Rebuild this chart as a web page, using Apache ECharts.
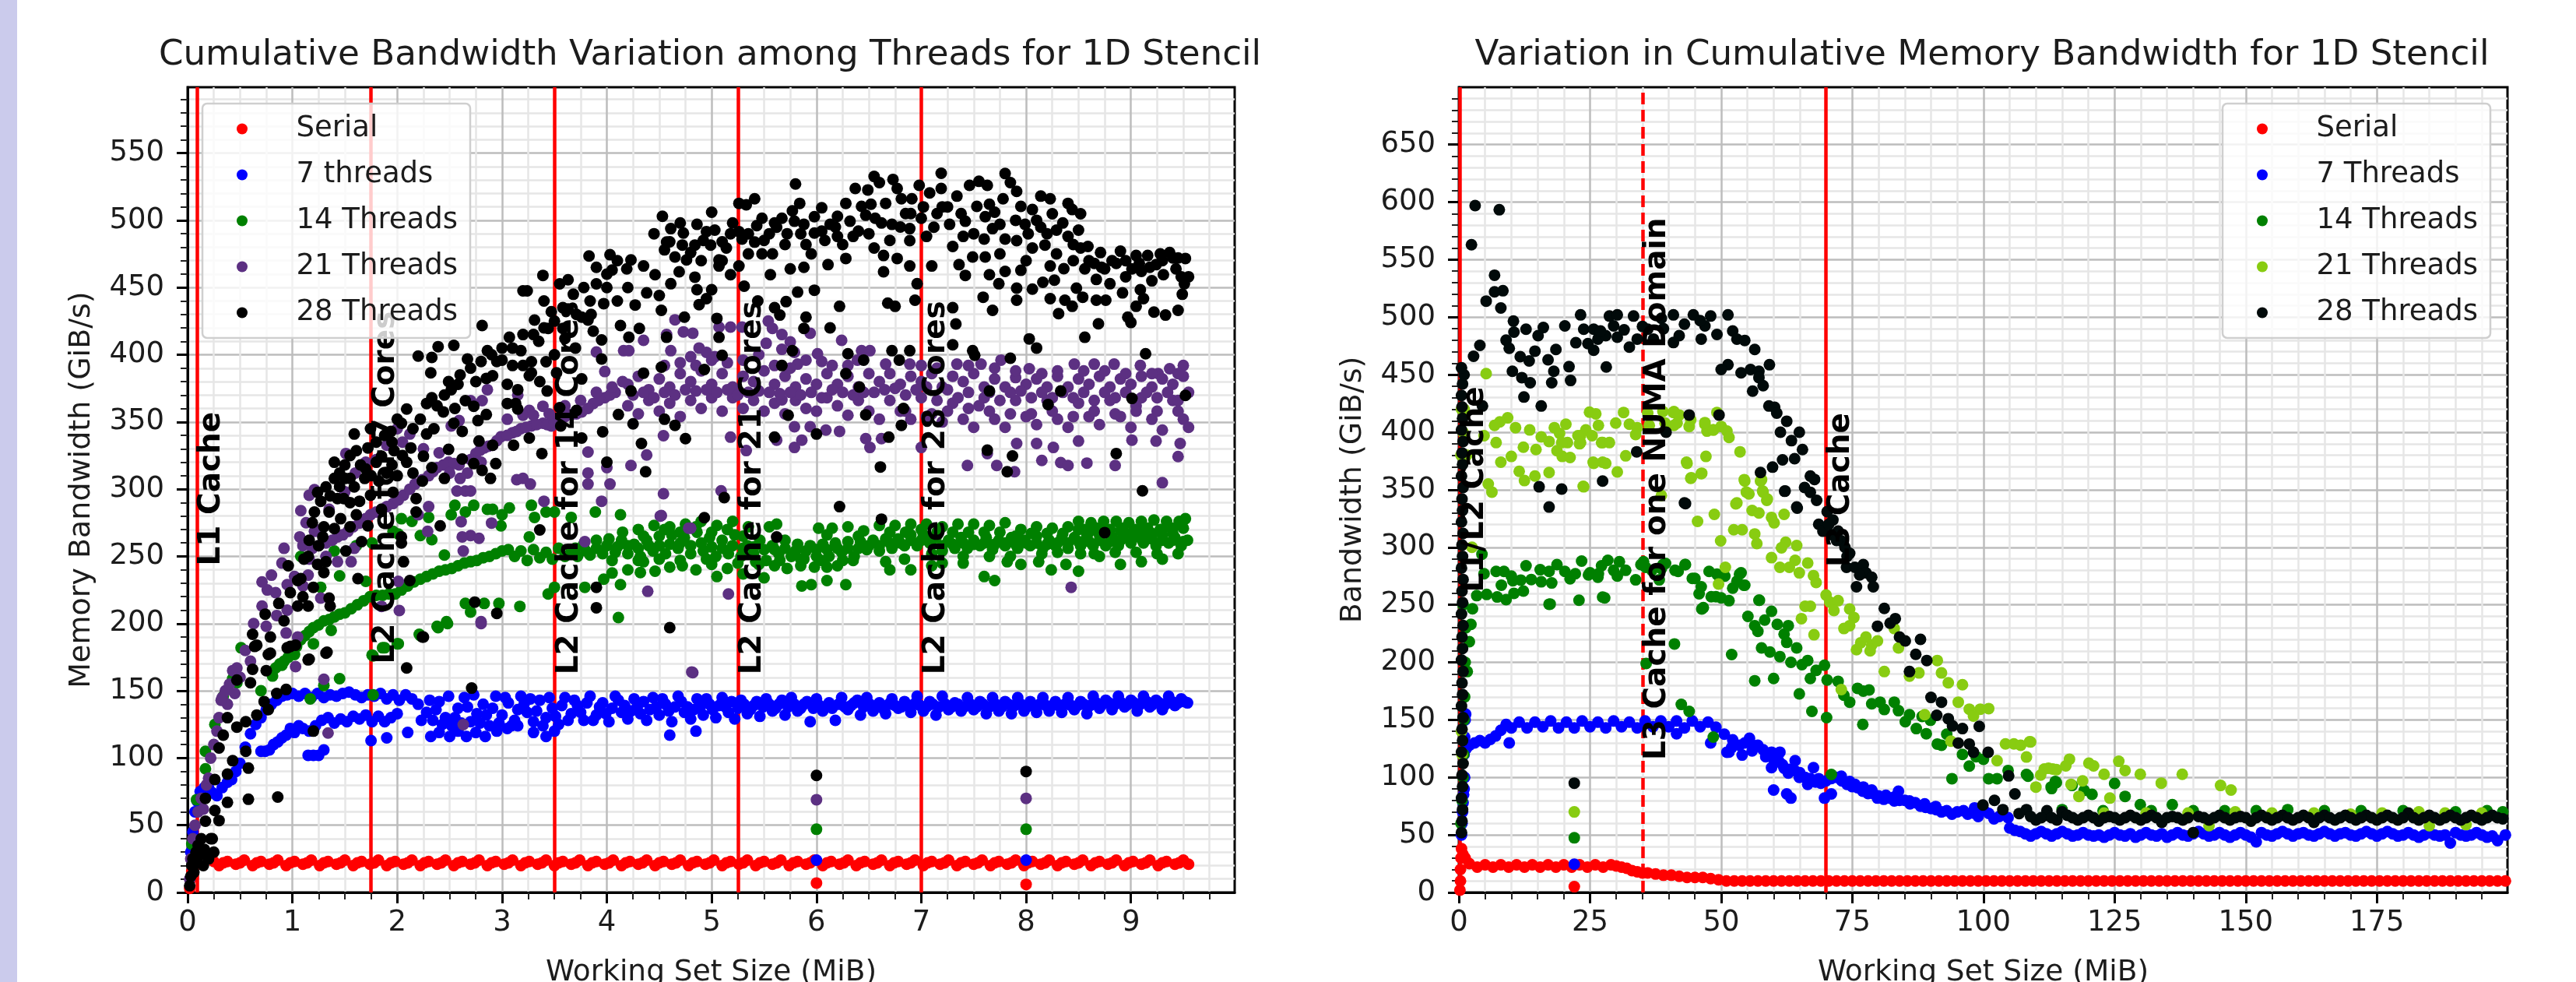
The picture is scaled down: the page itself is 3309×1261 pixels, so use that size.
<!DOCTYPE html>
<html><head><meta charset="utf-8">
<script src="https://cdn.jsdelivr.net/npm/echarts@6/dist/echarts.min.js"></script>
<style>html,body{margin:0;padding:0;background:#fff}#c{width:3309px;height:1261px}</style></head>
<body><div id="c"></div>
<script>
const leftTitle='Cumulative Bandwidth Variation among Threads for 1D Stencil';
const rightTitle='Variation in Cumulative Memory Bandwidth for 1D Stencil';
const leftXTicks=[0,1,2,3,4,5,6,7,8,9];
const leftYTicks=[0,50,100,150,200,250,300,350,400,450,500,550];
const rightXTicks=[0,25,50,75,100,125,150,175];
const rightYTicks=[0,50,100,150,200,250,300,350,400,450,500,550,600,650];
const leftLines=[0.086,1.75,3.5,5.25,7];
const leftLineLabels=[[0.086,243,'L1 Cache'],[1.75,170,'L2 Cache for 7 Cores'],[3.5,162,'L2 Cache for 14 Cores'],[5.25,162,'L2 Cache for 21 Cores'],[7,162,'L2 Cache for 28 Cores']];
const rightLinesSolid=[0.15,70];
const rightLinesDashed=[35];
const rightLineLabels=[[0.25,261,'L1/L2 Cache'],[35,115,'L3 Cache for one NUMA Domain'],[70,283,'L3 Cache']];
const leftNames=['Serial','7 threads','14 Threads','21 Threads','28 Threads'];
const rightNames=['Serial','7 Threads','14 Threads','21 Threads','28 Threads'];
const leftColors=['#ff0000','#0000ff','#008000','#5c3082','#000000'];
const rightColors=['#ff0000','#0000ff','#008000','#88cc11','#010a0a'];

const leftSerial=[.02,3,.03,10,.04,16,.05,20,.06,24,.07,28,.09,31,.12,31,.15,30,.18,28,.2,26,.25,23,.3,20,.38,23,.46,21,.54,24,.62,20,.7,23,.78,21,.86,24,.94,20,1.02,23,1.1,21,1.18,24,1.26,20,1.34,23,1.42,21,1.5,24,1.58,20,1.66,23,1.74,21,1.82,24,1.9,20,1.98,23,2.06,21,2.14,24,2.22,20,2.3,23,2.38,21,2.46,24,2.54,20,2.62,23,2.7,21,2.78,24,2.86,20,2.94,23,3.02,21,3.1,24,3.18,20,3.26,23,3.34,21,3.42,24,3.5,20,3.58,23,3.66,21,3.74,24,3.82,20,3.9,23,3.98,21,4.06,24,4.14,20,4.22,23,4.3,21,4.38,24,4.46,20,4.54,23,4.62,21,4.7,24,4.78,20,4.86,23,4.94,21,5.02,24,5.1,20,5.18,23,5.26,21,5.34,24,5.42,20,5.5,23,5.58,21,5.66,24,5.74,20,5.82,23,5.9,21,5.98,24,6.06,20,6.14,23,6.22,21,6.3,24,6.38,20,6.46,23,6.54,21,6.62,24,6.7,20,6.78,23,6.86,21,6.94,24,7.02,20,7.1,23,7.18,21,7.26,24,7.34,20,7.42,23,7.5,21,7.58,24,7.66,20,7.74,23,7.82,21,7.9,24,7.98,20,8.06,23,8.14,21,8.22,24,8.3,20,8.38,23,8.46,21,8.54,24,8.62,20,8.7,23,8.78,21,8.86,24,8.94,20,9.02,23,9.1,21,9.18,24,9.26,20,9.34,23,9.42,21,9.5,24,9.55,21,6,7,8,6,
.34,22,.5,22,.66,22,.82,22,.98,22,1.14,22,1.3,22,1.46,22,1.62,22,1.78,22,1.94,22,2.1,22,2.26,22,2.42,22,2.58,22,2.74,22,2.9,22,3.06,22,3.22,22,3.38,22,3.54,22,3.7,22,3.86,22,4.02,22,4.18,22,4.34,22,4.5,22,4.66,22,4.82,22,4.98,22,5.14,22,5.3,22,5.46,22,5.62,22,5.78,22,5.94,22,6.1,22,6.26,22,6.42,22,6.58,22,6.74,22,6.9,22,7.06,22,7.22,22,7.38,22,7.54,22,7.7,22,7.86,22,8.02,22,8.18,22,8.34,22,8.5,22,8.66,22,8.82,22,8.98,22,9.14,22,9.3,22,9.46,22];

const left7=[.03,30,.05,45,.07,60,.09,68,.12,75,.16,78,.2,78,.24,74,.28,72,.33,78,.38,82,.42,84,.46,90,.5,96,.55,108,.6,118,.65,125,.7,130,.75,136,.8,140,.85,143,.9,146,.95,147,1,148,1.06,146,1.12,148,1.18,145,1.24,148,1.3,145,1.36,147,1.42,146,1.48,148,1.54,149,1.6,147,1.66,145,1.72,147,1.78,146,1.84,148,1.9,144,1.96,147,2.02,143,2.08,147,2.14,144,.7,105,.74,105,.78,106,.82,110,.86,112,.9,115,.94,117,.98,122,1.02,119,1.06,124,1.1,122,1.16,120,1.22,124,1.28,128,1.34,130,1.4,126,1.46,129,1.52,127,1.58,131,1.64,129,1.7,132,1.76,127,1.82,131,1.88,127,1.94,130,2,133,1.15,102,1.2,102,1.25,102,1.3,106,1.75,113,1.9,115,2.1,119,2.32,116,2.4,119,2.5,116,2.58,120,2.66,116,2.75,119,2.84,116,2.95,120,3.05,122,3.15,124,3.3,119,3.42,116,3.5,120,4.6,117,4.85,120,6,24,8,24,
2.2,140,2.28,134,2.34,128,2.4,142,2.46,130,2.52,124,2.58,137,2.64,145,2.7,127,2.76,133,2.82,140,2.88,124,2.94,146,3,132,3.06,141,3.12,128,3.18,146,3.24,134,3.3,127,3.36,143,3.42,130,3.48,137,3.54,125,3.6,145,3.66,133,3.72,139,3.78,128,3.84,146,3.9,132,3.96,141,4.02,127,4.08,146,4.14,134,4.2,129,4.26,144,4.32,133,4.38,128,4.44,145,4.5,132,4.56,140,4.62,127,4.68,146,4.74,134,4.8,129,4.86,144,4.92,132,4.98,140,5.04,130,5.1,145,5.16,134,5.22,129,5.28,143,5.34,133,5.4,139,5.46,131,5.52,144,5.58,135,5.64,140,5.7,132,5.76,145,5.82,135,5.88,140,5.94,127,6,144,6.06,135,6.12,141,6.18,128,6.24,145,6.3,136,6.36,141,6.42,132,6.48,145,6.54,135,6.6,141,6.66,133,6.72,144,6.78,137,6.84,142,6.9,134,6.96,146,7.02,135,7.08,142,7.14,132,7.2,146,7.26,136,7.32,141,7.38,135,7.44,145,7.5,136,7.56,142,7.62,133,7.68,145,7.74,135,7.8,142,7.86,133,7.92,145,7.98,135,8.04,142,8.1,134,8.16,145,8.22,135,8.28,142,8.34,134,8.4,145,8.46,136,8.52,142,8.58,133,8.64,146,8.7,137,8.76,143,8.82,136,8.88,146,8.94,138,9,143,9.06,135,9.12,146,9.18,138,9.24,143,9.3,136,9.36,146,9.42,139,9.48,144,9.54,141,
2.23,128,2.31,143,2.37,136,2.43,125,2.49,146,2.55,130,2.61,126,2.67,138,2.73,147,2.79,126,2.85,132,2.91,137,2.97,126,3.03,145,3.09,124,3.15,136,3.21,140,3.27,144,3.33,135,3.39,124,3.45,145,3.51,131,3.57,139,3.63,128,3.69,143,3.75,134,3.81,141,3.87,128,3.93,138,3.99,133,4.05,137,4.11,143,4.17,139,4.23,135,4.29,138,4.35,142,4.41,136,4.47,138,4.53,144,4.59,135,4.65,138,4.71,142,4.77,138,4.83,136,4.89,138,4.95,144,5.01,136,5.07,139,5.13,138,5.19,142,5.25,137,5.31,140,5.37,136,5.43,142,5.49,138,5.55,140,5.61,137,5.67,143,5.73,138,5.79,140,5.85,137,5.91,142,5.97,137,6.03,139,6.09,138,6.15,137,6.21,140,6.27,138,6.33,139,6.39,143,6.45,138,6.51,140,6.57,138,6.63,137,6.69,140,6.75,139,6.81,138,6.87,139,6.93,140,6.99,139,7.05,138,7.11,140,7.17,138,7.23,140,7.29,138,7.35,140,7.41,138,7.47,140,7.53,138,7.59,140,7.65,138,7.71,140,7.77,138,7.83,140,7.89,139,7.95,140,8.01,138,8.07,139,8.13,140,8.19,139,8.25,139,8.31,139,8.37,140,8.43,139,8.49,139,8.55,140,8.61,139,8.67,141,8.73,140,8.79,141,8.85,140,8.91,141,8.97,140,9.03,141,9.09,140,9.15,142,9.21,140,9.27,141,9.33,140,9.39,142,9.45,141,9.51,142];

const left14=[.04,36,.085,69,.17,92,.17,105,.26,125,.34,146,.43,159,.47,156,.51,182,.7,150,.81,161,.9,169,1.02,177,1.17,144,1.3,154,1.45,159,1.77,147,1.2,185,1.37,195,1.77,176,1.86,182,2,185,2.22,191,2.39,197,2.48,200,6,47,8,47,
.84,167,.88,170,.92,172,.96,175,1,178,1.04,183,1.08,188,1.12,191,1.16,194,1.2,197,1.25,199,1.3,202,1.35,203,1.4,205,1.45,207,1.5,208,1.56,211,1.62,214,1.68,217,1.74,220,1.8,221,1.86,221,1.92,222,1.98,222,2.04,225,2.1,228,2.16,231,2.22,233,2.28,235,2.34,237,2.4,239,2.46,240,2.52,241,2.58,243,2.64,245,2.7,246,2.76,247,2.82,249,2.88,250,2.94,252,3,254,3.06,255,3.12,250,3.18,254,3.24,247,3.3,255,3.36,249,3.42,253,3.48,248,3.54,256,3.6,250,3.66,254,3.72,250,3.78,259,3.84,251,3.9,262,3.96,252,4.02,263,4.08,253,4.14,262,4.2,252,4.26,259,4.32,250,4.38,262,4.44,254,4.5,265,4.56,252,4.62,266,4.68,256,4.74,264,4.8,252,4.86,268,4.92,254,4.98,264,5.04,250,5.1,262,5.16,252,5.22,266,5.28,250,5.34,258,5.4,252,5.46,262,5.52,247,5.58,258,5.64,252,5.7,262,5.76,250,5.82,259,5.88,248,5.94,258,6,250,6.06,259,6.12,250,6.18,260,6.24,253,6.3,261,6.36,250,6.42,261,6.48,255,6.54,262,6.6,254,6.66,263,6.72,256,6.78,263,6.84,258,6.9,266,6.96,258,7.02,266,7.08,260,7.14,264,7.2,254,7.26,262,7.32,256,7.38,264,7.44,256,7.5,262,7.56,258,7.62,264,7.68,255,7.74,262,7.8,258,7.86,264,7.92,256,7.98,262,8.04,258,8.1,265,8.16,256,8.22,262,8.28,258,8.34,264,8.4,256,8.46,264,8.52,258,8.58,265,8.64,258,8.7,266,8.76,258,8.82,264,8.88,258,8.94,266,9,260,9.06,265,9.12,260,9.18,266,9.24,258,9.3,266,9.36,260,9.42,264,9.48,258,9.54,262,
2.55,288,2.73,288,2.86,285,2.91,285,3.07,286,3.28,288,3.5,283,3.66,279,3.89,283,4.13,281,2.515,281,2.65,283,2.3,279,2.04,278,2.14,276,2.99,272.7,3,281,3.31,279,3.42,283,2.01,266.6,2.22,265.5,2.33,262.4,1.96,268.6,1.76,260,1.61,258,1.4,254,2.45,251,3.26,264.5,1.45,235.5,1.08,250,1.27,227,1.7,231.4,3.44,222,3.5,227,3.79,227,3.97,233,4.05,237.6,4.13,229,2.65,215,2.7,208.6,2.83,215,2.97,215,3.17,212.8,4.11,204.5,2.47,201.4,2.38,198,2.21,192,2.01,185,1.88,182,1.76,176.6,
4.3,270,4.45,273,4.6,272,4.75,274,4.9,276,5.05,273,5.2,276,5.35,272,5.55,272,5.62,274,6.02,271,6.15,271,6.3,272,6.45,269,6.6,273,6.75,273,6.9,274,7.05,274,7.2,272,7.35,274,7.5,274,7.65,273,7.8,275,7.95,270,8.1,272,8.25,271,8.4,272,8.5,276,8.56,270,8.62,275,8.68,271,8.74,276,8.8,270,8.86,276,8.92,271,8.98,275,9.04,270,9.1,276,9.16,271,9.22,277,9.28,270,9.34,276,9.4,271,9.46,276,9.52,278,
4.2,240,4.32,238,4.46,239,4.6,242,4.72,243,4.85,240,4.95,248,5.05,235,5.15,241,5.3,237,5.42,246,5.5,234,5.6,243,5.72,241,5.85,243,5.98,242,6.1,242,6.2,243,6.35,247,6.66,246,6.7,240,6.84,248,6.9,240,7.1,243,7.2,245,7.4,245,7.6,235,7.7,232,7.82,246,7.95,244,8.12,246,8.24,240,8.38,244,8.5,239,8.7,250,8.9,244,9.1,246,9.3,248,5.86,228,5.95,229,6.1,232,6.28,229,4.3,247,4.5,248,
3.7,256,3.8,254,3.9,256,4,258,4.1,257,4.2,258,4.3,256,4.4,258,4.5,258,4.6,259,4.7,260,4.8,258,4.9,260,5,257,5.1,256,5.2,258,5.3,256,5.4,257,5.5,255,5.6,255,5.7,256,5.8,254,5.9,254,6,255,6.1,255,6.2,256,6.3,256,6.4,256,6.5,258,6.6,258,6.7,260,6.8,260,6.9,262,7,262,7.1,262,7.2,258,7.3,259,7.4,260,7.5,259,7.6,260,7.7,259,7.8,260,7.9,259,8,260,8.1,260,8.2,259,8.3,260,8.4,260,8.5,261,8.6,261,8.7,262,8.8,261,8.9,262,9,262,9.1,263,9.2,263,9.3,262,9.4,262,9.5,261,
4.15,268,4.35,265,4.55,270,4.7,268,4.85,272,5,268,5.15,270,5.3,265,6.1,266,6.4,265,6.7,268,6.85,268,7,270,7.15,268,7.3,268,7.45,268,7.6,268,7.75,268,7.9,265,8.05,267,8.2,267,8.35,267,8.5,270,8.6,268,8.7,270,8.8,266,8.9,269,9,267,9.1,270,9.2,267,9.3,270,9.4,267,9.5,271,8.52,252,8.65,252,8.85,253,9.05,253,9.25,252,9.45,252,8.15,252,8.3,253,7.85,250,7.65,250,7.4,250,7.1,252,4.05,247,4.35,246,4.7,247,5,244,5.25,245,5.45,244,5.65,247,5.85,248,6.05,247,6.25,247];

const left21=[.02,10,.03,25,.05,40,.07,50,.1,60,.13,70,.15,62,.18,80,.2,85,.22,100,.25,110,.28,120,.3,130,.33,145,.36,150,.38,140,.4,155,.43,165,.47,167,.55,180,.63,200,.71,213,.76,225,.84,223,.95,229,.71,231,.8,236,.9,245,.92,256,1.07,264.5,1.08,284,1.21,299.6,1.16,295.5,1.51,326.5,1.19,256,1.32,260,1.43,264.5,1.53,268.6,1.64,274.8,1.745,281,1.85,285,1.96,289.3,2.06,295.5,2.17,303.8,2.3,310,2.38,316,2.49,320,2.59,318,2.67,312,2.75,326.5,2.83,330.7,2.91,332.7,2.99,339,3.1,342,3.18,345,3.28,347,3.39,349,3.47,347,3.55,353,3.66,355.5,3.76,357.5,3.87,363.7,3.98,368,4.08,372,1.25,258,1.38,262,1.48,266,1.58,272,1.7,278,1.8,283,1.9,287,2.01,292,2.12,300,2.24,307,2.34,313,2.44,318,2.54,319,2.7,322,2.79,329,2.87,332,2.95,336,3.05,340,3.14,343,3.23,346,3.33,348,3.43,348,3.5,350,3.6,354,3.71,356,3.82,360,3.92,366,4.03,370,1.32,250,1.56,246,1.59,256,1.43,246,1.16,248,1.13,275,1.21,268.6,1.9,332.7,2,345,2.12,341,2.515,347,2.59,351,2.7,365.8,2.86,374,3.15,370,2.81,365.8,3.26,358.6,3.39,361.7,3.05,352,3.14,307,3.27,303.8,3.2,308,2.65,298.6,2.57,298.6,2.7,298.6,2.7,265.5,2.78,263.4,2.62,264.5,2.61,275.8,2.63,254,2.9,274.8,2.29,268.6,2.02,209.7,2.8,201.4,2.3,287,2.2,281,3.82,327.6,3.82,312,3.82,303.8,4.03,303.8,4,316,3.98,387.5,3.9,402,4.16,403,3.95,291,3.4,291,3.79,261,2.01,231.4,1.85,212.8,1.27,219,1.05,190,.32,143,4.82,163.5,2.63,124.8,1.34,118.6,1.3,158.6,1.03,168,.94,193,2.8,200,6,69,8,70,
4.65,426,5.54,425,4.73,417,4.82,416,5.07,420.6,5.18,420.6,5.29,420.6,5.58,419.6,5.67,415,5.75,409.6,5.94,416,6.24,410.7,4.57,415,4.35,410.7,4.21,403,4.61,403,4.88,405,4.95,401.8,4.8,398.5,5.03,398.5,5.52,408.5,5.67,404,5.79,401.8,6.01,400.7,6.43,403,6.51,403,6.39,396,6.05,395,5.82,393,6.66,393,6.89,393,7.34,393,7.57,393,7.76,396,8.03,389.6,8.46,393,8.65,393,8.84,393,9.09,392,9.5,392,9.37,389.6,9.26,386,
4.2,378,4.3,384,4.4,374,4.5,382,4.6,376,4.7,386,4.8,380,4.9,388,5,378,5.1,386,5.2,376,5.3,384,5.4,380,5.5,388,5.6,378,5.7,384,5.8,376,5.9,382,6,378,6.1,386,6.2,378,6.3,384,6.4,376,6.5,386,6.6,380,6.7,386,6.8,378,6.9,384,7,380,7.1,386,7.2,376,7.3,384,7.4,380,7.5,386,7.6,376,7.7,382,7.8,376,7.9,383,8,378,8.1,382,8.2,376,8.3,384,8.4,376,8.5,382,8.6,378,8.7,384,8.8,376,8.9,382,9,378,9.1,384,9.2,376,9.3,382,9.4,378,9.5,384,
4.2,362,4.3,356,4.4,366,4.5,358,4.6,364,4.7,354,4.8,366,4.9,360,5,368,5.1,358,5.2,368,5.3,360,5.4,366,5.5,358,5.6,364,5.7,356,5.8,366,5.9,360,6,358,6.1,368,6.2,362,6.3,355,6.4,366,6.5,358,6.6,352,6.7,366,6.8,358,6.9,352,7,368,7.1,356,7.2,350,7.3,364,7.4,352,7.5,346,7.6,368,7.7,352,7.8,346,7.9,366,8,354,8.1,348,8.2,366,8.3,352,8.4,346,8.5,364,8.6,354,8.7,348,8.8,366,8.9,354,9,346,9.1,368,9.2,352,9.3,344,9.4,366,9.5,352,9.55,346,
5.18,338.7,5.33,328.7,5.62,336.5,5.67,366.4,5.79,346.4,5.79,331,5.86,336.5,5.94,346.4,6.09,344,6.22,343,6.47,337.6,6.51,331,6.62,337.6,7,331,4.54,339.8,4.38,325.4,4.23,317.6,4.54,296.6,5.09,298.8,4.52,280.4,4.78,271,7.44,317.6,7.72,317.6,7.63,326.5,7.89,313,7.91,334,8.1,334,8.26,331,8.5,335.8,8.15,321.4,8.33,319.8,8.4,317.6,8.58,319.4,8.85,317.6,9.3,304.8,9.45,324.3,9.47,334,9.24,335.8,9.01,336.5,8.43,227,4.81,164,4.39,224,5.16,222,4.8,271,4.51,280,
4.25,370,4.35,372,4.45,368,4.55,372,4.65,370,4.75,374,4.85,373,4.95,374,5.05,372,5.15,374,5.25,370,5.35,372,5.45,373,5.55,372,5.65,371,5.75,372,5.85,370,5.95,372,6.05,368,6.15,374,6.25,372,6.35,370,6.45,372,6.55,372,6.65,374,6.75,375,6.85,370,6.95,374,7.05,376,7.15,366,7.25,374,7.35,368,7.45,372,7.55,362,7.65,372,7.75,366,7.85,372,7.95,373,8.05,368,8.15,372,8.25,368,8.35,372,8.45,368,8.55,372,8.65,366,8.75,372,8.85,368,8.95,372,9.05,362,9.15,372,9.25,368,9.35,372,9.45,366,9.55,372,
4.55,392,4.7,394,4.85,392,5,396,5.15,394,5.3,396,5.45,400,5.6,392,5.75,390,5.9,396,6.15,392,6.3,392,7,392,7.15,390,7.45,392,7.7,390,7.9,388,8.15,386,8.3,388,8.55,388,8.75,388,8.95,386,9.2,386,9.45,386,6.85,358,7.05,354,7.25,358,7.45,360,7.65,358,7.85,356,8.05,356,8.25,358,8.45,354,8.65,358,8.85,356,9.05,358,9.25,358,9.45,358,
1.1,258,1.22,270,1.35,285,1.5,298,1.6,312,1.7,320,1.8,322,2.05,335,2.25,330,2.4,327,2.5,312,2.6,308,2.8,320,3.2,355,3.3,355,3.45,356,3.6,362,3.75,366,3.9,372,4.05,376,4.15,380,1.15,236,1.02,235,.85,206,.75,198,.6,172,.5,160,.45,148,.95,210,1.1,228];

const left28=[.02,5,.03,12,.04,20,.05,25,.06,15,.08,30,.09,22,.1,35,.12,28,.13,40,.15,20,.16,32,.17,53,.17,70,.2,25,.22,40,.235,40,.25,30,.26,61,.26,84,.3,53.5,.3,107.5,.34,117,.38,67,.38,88,.38,130,.43,98,.47,123,.47,158,.555,105,.555,127,.58,69.3,.58,92.5,.6,156,.62,166,.64,183,.66,132,.73,142,.75,165,.77,136,.77,177,.85,148,.86,71,.94,151,.98,183,1.15,173,1.2,120,1.32,178,2.09,167,2.24,190,2.71,152,4.6,197,6,87,8,90,
.66,184,.62,192,.74,207,.87,215,.92,202,.79,190,1.05,213,1.15,213,.98,223,1.08,233.5,1.2,227,.96,243,1.11,248,1.16,262,1.32,246,1.24,244,1.35,219,1.36,213,1.33,178.7,1.16,173.5,.79,178,1.03,184,.95,182,1.19,275,1.29,264.5,1.4,270.7,1.35,283,1.21,283,1.27,291,1.32,301.7,1.24,297.6,1.43,293,1.49,293,1.4,308,1.4,320,1.5,308,1.59,301.7,1.61,281,1.51,254,1.66,261,1.625,233.5,1.72,272.7,1.85,285,1.745,295.5,1.64,291,1.69,308,1.61,328.6,1.59,341,1.745,345,1.72,330.7,1.85,324.5,1.9,312,1.825,306,1.96,297.6,2.04,264.5,2.04,260,2.06,246,2.12,232,2.41,272.7,2.18,283,2.18,293,2.24,306,2.25,324.5,2.09,320,2.13,330.7,1.97,328.6,1.94,343,2.04,349,2.09,359.6,2.28,341,2.33,316,2.45,308,2.49,329.6,2.62,322.4,2.62,343,2.54,349,2.33,368,2.28,363.7,2.44,357.5,2.49,380,2.515,374,2.67,396.8,2.65,365.8,2.73,361.7,2.85,355.5,2.77,351,2.78,335.8,2.91,332.7,2.73,319,2.81,314,2.89,308,2.94,319,2.85,382.4,2.91,384.4,3.05,378,3.15,374,3.13,363.7,3.05,363.7,2.86,403,3,405,3.07,413,3.18,403,3.28,394.8,3.26,384.4,3.36,380,3.43,373,3.15,359.6,3.11,332.7,3.26,338,3.38,326.5,3.36,269.7,3.55,360.6,3.71,358.6,3.76,338,3.56,347,3.96,342.7,3.9,227,3.9,211.8,2.95,207.6,2.74,216,2.25,190,4,320,3.39,459,3.24,447.5,3.2,447.5,3.4,440,2.81,421.7,2.2,399,2.33,398,2.39,406,2.54,407,2.32,386.5,3.31,425.8,3.47,432,3.63,455.8,3.55,452.7,3.83,473.4,4.03,474.4,3.71,430,3.63,434,3.82,425.8,3.9,452.7,3.97,438,4.05,463,3.84,440,3.76,428,3.58,419.6,3.87,417.5,3.95,411,3.44,419.6,3.42,394.8,3.52,386.5,3.76,382,3.95,396.8,3.28,386.5,4.13,421.7,4.11,355.5,
1.5,318,1.55,290,1.46,278,1.3,238,1.1,220,1.25,258,1.55,272,1.75,310,1.95,335,2,310,2.15,312,2.35,345,2.55,360,2.6,385,2.75,380,2.95,395,3.1,392,3.2,415,3.35,410,3.5,400,3.6,412,3.7,405,3.85,430,4,450,4.1,440,
1.45,312,1.55,325,1.65,318,1.8,335,1.88,340,2,352,2.15,345,2.22,352,2.38,362,2.45,370,2.58,378,2.7,390,2.8,395,2.9,400,3,396,3.1,405,3.2,392,3.3,415,3.4,420,3.5,425,3.58,435,3.68,445,3.78,450,3.9,465,4,460,4.1,470,4.2,450,1.36,295,1.15,250,1.05,232,1.3,272,1.45,302,1.55,308,1.7,315,1.8,320,1.95,318,2.05,325,
4.53,503,4.61,493.8,4.73,490.5,4.86,497,5,506,5.03,492.7,4.95,491.6,4.57,483.8,4.72,481.6,4.55,478,4.84,481.6,4.65,472.7,4.76,470.5,5.07,470.5,4.99,481.6,5.14,479.4,5.26,491.6,5.26,512.6,5.33,511.5,5.41,516,5.48,501.5,5.43,496,5.29,486,5.41,483.8,5.48,475,5.58,475,5.62,494.9,5.67,501.5,5.79,499.3,5.8,527,5.84,512.6,5.77,507,5.88,497,5.98,490.5,6.05,509.3,5.98,502.7,6.13,497,6.2,488,6.28,512.6,6.32,499.3,6.37,523.7,6.43,510.4,6.47,503.8,6.55,532.6,6.49,522.6,6.6,528,6.73,530.4,6.77,523.7,6.66,512.6,6.56,501.5,6.72,497,6.81,516,6.98,526,7.08,520.4,7.19,535,7.19,523.7,6.91,516,6.89,493.8,7,501.5,7.12,494.9,7.27,497,7.34,518,7.46,526,7.55,529,7.63,526,7.53,510.4,7.42,499.3,7.61,502.7,7.8,534.8,7.85,528,7.91,521.5,7.78,516,7.7,506,7.68,493.8,7.95,510.4,8.14,518,8.23,516,8.4,512.6,8.44,508,8.52,504.9,8.06,508,8.25,504.9,7.99,497,8.14,494.9,8.29,492.7,8.5,492.7,8.4,488,7.8,486,7.91,484.9,8.06,479.4,8.18,481.6,8.29,475,8.52,479.4,8.59,480.5,8.71,476,8.9,477,9.05,473.8,9.16,473.8,9.37,476,9.52,471.6,8.56,463.9,8.75,463.9,8.86,468,9.01,463.9,9.24,467,9.43,463.9,9.2,455,9.51,452.8,9.31,459.5,8.67,456,8.8,452.8,9.09,448.4,9.49,445,8.48,449.5,8.54,442.8,8.67,440.6,8.76,440.6,8.92,446,9.12,441.7,9.05,436,8.97,428,9,424,9.22,431.7,9.33,429.5,9.45,433,8.69,423,8.56,413,8.23,441.7,8.37,440.6,8.44,436,8.31,430.6,8.23,466,8.36,464,8.27,455.5,8.06,448.8,8.16,453.9,7.95,462.8,7.8,462,7.65,459.5,7.91,449.5,7.74,452.8,7.91,440.6,7.59,442.8,7.68,433,7.36,467,7.42,459,7.49,472.7,7.61,472.7,7.3,480.5,7.1,466,6.89,484.9,6.89,466,6.96,452.8,6.94,440.6,6.68,438.4,6.75,436,7.3,435,7.33,422.9,6.22,436,6.13,420,5.98,448,5.82,446.6,5.71,439.5,5.6,435,5.65,429.5,5.44,440,5.31,451,5.18,459.5,5.26,466,5.07,466,5,448.4,4.86,448.4,4.95,441.7,4.88,437.3,4.84,457.7,4.69,461.7,4.46,459.5,4.61,452.8,4.35,466,4.23,470.5,4.19,463.9,4.38,446,4.5,444,4.27,437,4.52,433,4.31,419.6,4.21,413,5.88,465,6.11,467,6.28,471.6,6.55,479.4,6.64,473.8,5.75,463.9,5.56,459.5,6.64,461.7,6.77,471.6,5.9,428,5.88,419.6,4.74,428,5.05,427,5.1,399.6,5.77,403,4.93,389,5.67,392,4.52,390.7,4.35,386.3,4.23,373,4.57,413,5.07,413,4.65,347.5,4.55,352,4.25,348.6,4.75,337.6,4.33,334,4.37,313,5.6,338.7,5.73,355,6,341,6.3,400.7,6.45,396,6.28,386,6.41,376,6.72,403,6.79,396,6.89,403,6.47,355.3,6.83,360,6.81,347.5,6.69,338.7,6.61,316.5,5.12,293.7,4.93,278.8,6.22,287,6.62,277.7,5.62,264.4,7.3,407.4,7.49,403,7.51,399.6,7.65,373,8.03,411.8,8.1,405,7.85,397.4,8.21,363,8.33,373,9.01,367.5,9.52,369.7,9.14,400.7,7.63,329,7.87,324.7,7.82,313,8.86,326.5,9.11,298.8,8.75,267.7,
4.9,470,5.1,484,5.2,498,5.35,475,5.55,490,5.7,482,5.9,482,6.05,492,6.2,503,6.35,488,6.5,490,6.7,485,6.85,505,7.05,488,7.2,510,7.4,488,7.6,486,7.75,475,8,470,8.45,470,8.65,468,8.95,470,9.1,462,9.3,470,9.45,472,9.55,458,
4.45,490,4.6,484,4.7,498,4.8,476,4.92,485,5.1,470,5.18,490,5.35,490,5.5,485,5.6,498,5.72,490,5.85,490,5.95,475,6.08,485,6.18,495,6.25,482,6.4,492,6.52,512,6.62,498,6.8,495,6.9,505,7.02,510,7.15,505,7.25,510,7.38,505,7.5,490,7.65,512,7.75,497,7.9,500,8.02,490,8.1,500,8.2,490,8.35,498,8.45,482,8.6,470,8.72,465,8.82,470,8.95,458,9.08,468,9.18,465,9.28,475,9.4,472,9.48,458];

const rightSerial=[.2,2,.3,10,.3,20,.4,30,.5,38,.8,33,1.2,30,2,25,3.5,22,5,24,6.5,22,8,24,9.5,22,11,24,12.5,22,14,24,15.5,22,17,24,18.5,22,20,24,21.5,22,23,24,24.5,22,26,24,27.5,22,29,24,30,23,31,22,32,21,33,19,34,18,35,17,36,17,37.5,16,39,15,40.5,15,42,14,43.5,13,45,13,46.5,13,48,12,49.5,11,51,10,52.5,10,54,10,55.5,10,57,10,58.5,10,60,10,61.5,10,63,10,64.5,10,66,10,67.5,10,69,10,70.5,10,72,10,73.5,10,75,10,76.5,10,78,10,79.5,10,81,10,82.5,10,84,10,85.5,10,87,10,88.5,10,90,10,91.5,10,93,10,94.5,10,96,10,97.5,10,99,10,100.5,10,102,10,103.5,10,105,10,106.5,10,108,10,109.5,10,111,10,112.5,10,114,10,115.5,10,117,10,118.5,10,120,10,121.5,10,123,10,124.5,10,126,10,127.5,10,129,10,130.5,10,132,10,133.5,10,135,10,136.5,10,138,10,139.5,10,141,10,142.5,10,144,10,145.5,10,147,10,148.5,10,150,10,151.5,10,153,10,154.5,10,156,10,157.5,10,159,10,160.5,10,162,10,163.5,10,165,10,166.5,10,168,10,169.5,10,171,10,172.5,10,174,10,175.5,10,177,10,178.5,10,180,10,181.5,10,183,10,184.5,10,186,10,187.5,10,189,10,190.5,10,192,10,193.5,10,195,10,196.5,10,198,10,199.5,10,22,5];

const right7=[.5,50,.6,60,.7,70,.8,78,.9,85,1,90,1.1,100,1,120,1.1,135,1.2,150,1.3,155,1.4,125,2,128,3,130,4,132,5,130,6,133,7,136,8,141,9,146,10,143,11.5,148,13,143,14.5,148,16,144,17.5,149,19,143,20.5,148,22,143,23.5,149,25,144,26.5,148,28,143,29.5,149,31,144,32.5,148,34,143,35.5,149,37,144,38.5,149,40,144,41.5,149,43,143,44.5,149,46,144,47.5,148,9.6,130,41.5,138,48,130,51.5,122,22,24.5,49,143.6,50.6,137.6,52.2,132.7,51.1,121.9,54,119.4,53.5,127.9,55.4,134,57,127.9,55.9,123,58.5,118,59.6,121.9,61.2,121.9,59.6,108.5,61.7,111,64.1,114.6,62.8,103.7,64.9,100,67.6,108.5,66.5,94,68.6,98.9,60,89,62.5,85.6,63.3,82,69.7,82,71,85.6,72.9,101,74.5,96.5,75.5,94,77.1,91.6,78.7,89,79.8,82,81.4,84.4,83.8,88,83,79.5,85.9,79.5,88.8,77,90.9,74.7,93,71,96.2,71,98.3,73.5,101,68.7,104.7,65,
52,126,54.5,130,56,128,58,124,60,116,61,114,62,108,63,107,64,106,65,104,66,100,67,99,68,96,69,95,70,97,71,99,72,100,73,97,74,94,75,92,76,91,77,88,78,86,79,86,80,84,81,81,82,82,83,83,84,80,85,80,86,77,87,78,88,75,89,74,90,73,91,72,92,70,94,68,95,70,97,68,98,69,99,66,100,72,102,64,103,66,105,56,107,53,109,49,111,53,113,49,115,53,117,49,119,52,121,49,123,48,125,52,127,49,129,48,131,52,133,49,135,48,137,52,139,49,141,53,143,49,145,52,147,48,149,52,151,48,152,44,153,52,155,49,157,53,159,49,161,52,163,49,165,53,167,49,169,52,171,49,173,53,175,49,177,53,179,49,181,52,183,48,185,52,187,49,189,43,190,52,192,49,194,52,196,48,198,45,199.5,50,
106,54,108,51,110,51,112,51,114,51,116,51,118,50,120,50,122,50,124,50,126,50,128,51,130,50,132,50,134,51,136,50,138,50,140,51,142,51,144,50,146,50,148,50,150,50,154,50,156,51,158,51,160,51,162,50,164,51,166,51,168,51,170,50,172,51,174,51,176,51,178,51,180,50,182,50,184,50,186,50,188,50,191,50,193,50,195,50,197,49];

const right14=[.4,60,.6,80,.8,100,.9,120,1,150,1.1,170,1.2,200,1.3,230,.8,250,12.8,284,23.4,288,18.7,285,7.1,279,4.8,277,8.6,279,10,275,15.5,280.5,17.2,279,20.2,279,26.6,277,24.7,276,22.2,277,11.8,271.5,8.1,267,10.3,271,13.8,272,15.7,270,17.7,269,21.2,272.6,12.3,262,10.5,260,5.3,259,3.4,258,7.3,256.8,9,254.5,17.2,250.5,22.9,254,27.4,256.7,2.6,246.6,2.3,233,2,218,4.4,294,1.6,192,28.4,288.7,30.6,287.5,35.2,287.5,39.4,286,43.1,285,27.2,284,29.5,280,31.8,280,35.6,282.6,38.6,281.4,41.2,280,25,277.8,26.5,274,30.2,275,33.7,271.7,38.2,271.7,45,273,46.2,265.7,47.7,279,53.8,277.8,49.2,276.6,50.7,275,53,270.5,54.5,267,52.2,264.5,45.8,259.6,48.1,257,50,256,51.5,253.6,46.6,247.5,27.8,256,17.4,250.7,41.1,216,52,206.8,35.7,199,57.3,254,22,47.5,34.7,285,38.9,285,43.2,285,36.8,280,41.8,279,44.5,273,49.5,275.4,53.5,276.6,54.3,267,49,257,46.3,246.4,57.2,254,59.6,244.4,55.1,240,56.4,231.9,57,227,58.3,236.7,60.7,233,62.8,231.9,62,224.6,62.5,217.4,57.7,212.5,59.3,209,61.2,205,64.4,212.5,63.3,200,65.4,198,66.5,201.6,69.7,197.5,68.1,193,67,186,70.2,184.7,72.3,183.5,56.4,184,60,186,64.9,172.6,74.5,165.4,73.4,171.4,76,177.4,78.2,176,77.1,175,67.3,157.4,70.1,152,42.4,163.4,43.9,157.4,48.5,135,77,146,78.7,164,80.3,165.4,83,165.4,81.1,159,83.8,158,85.9,154.5,85.1,148.4,88.3,153,87.2,142.4,89.1,138,89.9,149.7,91.2,129,92,128,93,137.6,71,102.5,96,120,97.3,109.8,100,115.8,98.6,118,94,98.9,101,98.9,102.6,98.9,104.7,106,108.2,102.5,112.9,91.6,113.7,96.5,108.5,101,113.9,95.5,113,90.3,116.9,93,119.2,88.7,120.7,85.3,125,94.8,127,83.5,129.9,76.3,136,76.3,122.8,71,115,72,132,71,140,71,146,71,152,71,158,72,165,71,172,71,180,71,190,70,196,71,199,70];

const right21=[.5,420,.4,380,.8,400,1,420,.6,120,.5,140,1.5,380,2.5,300,5.2,451,24.9,417.5,26.1,416,9.3,412.5,7.8,409,6.8,406,10.8,404,13.5,402,18.2,404,20.4,407,26.6,406,24.2,402,15.7,396,19.2,399,4.8,397,23.2,397,25.4,397,7.1,391,12.3,387,17.2,392,20.7,391,23.2,391,27.4,391,14.7,385,18.7,384,10,379,19.7,379,21.2,378,8,374,25.6,374,27.4,374,11.5,366,14.5,362,17.2,365,12.5,358,5.6,355,6.3,348,23.7,353,31.4,417.2,40.9,417.2,42,415,36,416.6,49.2,417.2,29.9,408,32.5,407,34,404,39.3,408,41.6,408,43.9,405,46.9,407,50,405,51.1,401,51.5,395.5,22.7,397,19.6,391,23,390,27.2,391,28.7,391,33.7,398,47.3,401,48.5,402,53.6,383,31.8,379.5,43.5,373,25.7,373,28,373,30.2,365.5,44.3,360.5,46.2,364,23.8,352.6,38.6,345,54.5,357.6,57.5,357.6,55.3,346.4,57.9,349,53,338.6,58.7,340.8,38.9,418,41,418,44.2,410.8,46.9,408.4,48.5,402,41,406,36.3,406,47.1,379,43.4,374,46.3,364.4,44.2,360,54.4,358.8,57.7,358.8,54.8,348,58,348,58.8,342,52.8,337.8,55.9,332,57.2,329.8,59.6,326,62,328.6,60.1,321.3,48.7,328.6,45.5,322.5,52.4,315.3,54,315.3,56.4,311.6,56.8,303.2,49.9,305.6,62.3,304.4,64.4,301.5,61.5,299.6,59.6,291,61.2,282.6,64.1,288.7,66.5,286.3,63,282.6,64.9,277.8,67.6,275.4,68.1,269.4,70,258.5,70.7,252.4,72.3,253.6,71.5,245,74.5,246.4,75.3,239,74.5,231.9,73.4,229.4,66,248.8,67,248.8,65.3,238,67.7,224,75.8,211,76.6,217,77.6,222,78.7,215,79.8,218.6,78.4,210,81.1,192,83,229.4,83.8,212.5,85.9,188,87.7,190.8,91.2,201.6,92,190.8,93.3,182.3,96,180.6,95.2,165.4,97.3,159.3,99.4,159.3,101,159.8,98.1,153.3,88.8,154.5,93.8,131.5,102.6,114.6,104.2,129.1,105.8,129.1,107.1,127.9,109,130.8,108.2,117.7,111.6,107.3,113.2,107.3,116.4,115.8,110,91.6,116.7,94,50.8,282.6,49.5,268,72.9,176.3,108.8,131,115.7,110,113.9,106.7,112.4,108,110.9,102,120.1,112.4,121,110,118.9,97,123,102.7,125.8,114,127,106,129.9,102.7,133.9,95,137.9,102.7,145.2,93,147.2,89,118.2,83.5,124.1,82,22,70,123,69,131,69,139,69,143,58,148,70,155,69,163,69,170,68,176,69,183,70,185,58,192,59,188,69,195,69];

const right28=[.5,52,.6,62,.7,72,.5,82,.7,92,.6,102,.8,112,.5,122,.7,132,.6,142,.8,152,.5,162,.7,172,.6,182,.8,192,.5,202,.7,212,.6,222,.8,232,.5,242,.7,252,.6,262,.8,272,.5,282,.7,292,.6,302,.8,312,.5,322,.7,332,.6,342,.8,352,.5,362,.7,372,.6,382,.8,392,.5,402,.7,412,.6,422,.5,432,.7,442,1,450,.5,456,3.1,597,7.7,593.4,2.4,563,6.8,536.5,8.4,523,6.8,522,5.2,514,8,508,4,475.5,2.8,466,10.4,496.6,12.8,489.6,10.5,487,16.1,491,15.1,484,9,480,9.6,473,14.5,470.5,18.5,472,11.7,465.7,13.4,462,17,463,10.2,453,12,447.5,13.6,443,18.1,453,17.7,443,21,457,21.3,445,12.4,430.6,15.7,422.8,4.5,422.8,28.1,456.7,20.2,492.4,23.2,502,22.3,477.8,23.8,489.6,25.7,489.6,24.6,477,26.5,481,25.7,471.3,28.7,501,30.2,502,33.3,501,28,484,30.2,482.6,29.5,492.4,32.5,474,34,481,36,489.6,37.1,481,38.6,499,40.9,502,44.7,502,42,484,40.9,478,48,501,51.3,502,46.9,492.4,49.2,485,46.2,481,52.2,488,53,481,54.5,479.8,56.4,472,51.3,458.7,50,454.5,53.8,451.7,55.6,454.5,57.2,453,59.2,458.7,57.2,447.5,58,440.5,56,435.7,59.1,422.8,60.2,421.7,60.6,416.6,62.5,409.6,43.9,415,49.6,415,39.5,400,61.3,400,64.9,400,63.4,392.7,33.9,383,65.5,385,61.7,376,64,377,59.8,369.7,57.5,365,27.4,357.6,15.3,352.6,19.6,350.6,62.1,348.7,67,361.9,67.8,359,65.9,352,67,347.8,68.2,340.8,43,338.6,17.2,335,64.4,335,27,488,31.5,489,35,492,39,490,43,494,46,497,22,95,
43.2,338,62.2,349,64.5,334,68.6,320,69.4,314,70.2,331,71.3,323.8,72.3,314,72.9,305.6,74.5,294.7,73.9,282.6,75.5,282.6,77.1,285,77.6,277.8,78.7,274,79,265.7,75.8,265.7,81.1,246.9,79.8,231.4,82.2,234,83.2,238,84,222,85.1,218.6,88,220,87.1,207,89.2,201.6,85.9,192,90,169.5,92,165.4,91.1,154,93.3,151,94.1,144.8,96,142.4,99.2,144.3,95.2,129.8,97.3,129,98.1,121.8,100.9,121.8,104.8,101.3,106,85.6,102.1,80,99.9,76,103.7,72,108.2,72,106.8,68.6,112.1,71,71,311,73.6,300,74,292,76.4,276,70.5,320,72,306,
110,63,112,67,114,63,115,70,116,67,118,63,120,67,122,62,124,66,126,63,128,67,130,63,132,67,134,61,136,66,138,63,140,52,141,66,143,63,145,67,147,63,149,66,151,62,153,67,155,63,157,67,159,63,161,67,163,61,165,67,167,63,169,67,171,63,173,67,175,63,177,67,179,63,181,69,183,63,185,67,187,63,189,67,191,63,193,67,195,63,197,67,199,64,
109,66,111,65,113,65,117,65,119,65,121,65,123,65,125,65,127,65,129,65,131,65,133,65,135,65,137,65,139,65,142,65,144,65,146,65,148,65,150,65,152,65,154,65,156,65,158,65,160,65,162,65,164,65,166,65,168,65,170,65,172,65,174,65,176,65,178,65,180,65,182,65,184,65,186,65,188,65,190,65,192,65,194,65,196,65,198,65];

const pairs=f=>{const r=[];for(let i=0;i<f.length;i+=2)r.push([f[i],f[i+1]]);return r};
const FONT='"DejaVu Sans"', TXT='#1c1c1c';
const chart=echarts.init(document.getElementById('c'),null,{renderer:'canvas'});

function axisX(max,interval,ticks,split,gridIndex){return {type:'value',gridIndex,min:0,max,interval,
  name:'Working Set Size (MiB)',nameLocation:'middle',nameGap:84,nameTextStyle:{fontFamily:FONT,fontSize:37.5,color:TXT},
  axisLine:{show:true,onZero:false,lineStyle:{color:'#000',width:3}},
  axisTick:{show:true,length:14,customValues:ticks,lineStyle:{color:'#000',width:3}},
  minorTick:{show:true,splitNumber:split,length:9,lineStyle:{color:'#222',width:2}},
  axisLabel:{fontFamily:FONT,fontSize:37,color:TXT,margin:21,customValues:ticks,hideOverlap:false,showMinLabel:true},
  splitLine:{show:true,lineStyle:{color:'#bdbdbd',width:2.5}},
  minorSplitLine:{show:true,lineStyle:{color:'#e6e6e6',width:2.5}}}}
function axisY(max,ticks,name,gridIndex){return {type:'value',gridIndex,min:0,max,interval:50,
  name,nameLocation:'middle',nameGap:117,nameTextStyle:{fontFamily:FONT,fontSize:38,color:TXT},
  axisLine:{show:true,onZero:false,lineStyle:{color:'#000',width:3}},
  axisTick:{show:true,length:14,customValues:ticks,lineStyle:{color:'#000',width:3}},
  minorTick:{show:true,splitNumber:5,length:9,lineStyle:{color:'#222',width:2}},
  axisLabel:{fontFamily:FONT,fontSize:37,color:TXT,margin:30,padding:[6,0,0,0],customValues:ticks,hideOverlap:false},
  splitLine:{show:true,lineStyle:{color:'#bdbdbd',width:2.5}},
  minorSplitLine:{show:true,lineStyle:{color:'#e6e6e6',width:2.5}}}}
function scat(name,flat,color,i){return {type:'scatter',name,data:pairs(flat),xAxisIndex:i,yAxisIndex:i,symbol:'circle',symbolSize:15,
  itemStyle:{color,opacity:1},z:2,silent:true,animation:false,progressive:0,large:false}}
function lines(vals,i,dash){return {type:'scatter',data:[],xAxisIndex:i,yAxisIndex:i,z:1,silent:true,animation:false,
  markLine:{silent:true,symbol:'none',animation:false,label:{show:false},z:1,
  lineStyle:{color:'#ff0000',width:4.5,type:dash?[15,7]:'solid',opacity:1},data:vals.map(v=>({xAxis:v}))}}}
function labels(rows,i){return {type:'scatter',xAxisIndex:i,yAxisIndex:i,z:5,silent:true,animation:false,clip:false,symbolSize:1,
  itemStyle:{color:'rgba(0,0,0,0)'},data:rows.map(r=>({value:[r[0],r[1]],name:r[2]})),
  label:{show:true,position:'inside',rotate:90,align:'left',verticalAlign:'top',fontFamily:FONT,fontWeight:'bold',fontSize:39,color:'#000',opacity:1,formatter:p=>p.name}}}
function legend(left,names,colors){return {left,top:133,orient:'vertical',z:20,selectedMode:false,
  backgroundColor:'rgba(255,255,255,0.8)',borderColor:'#cfcfcf',borderWidth:2.5,borderRadius:6,
  padding:[14,16,14,44],itemWidth:101,itemHeight:14,itemGap:22,
  textStyle:{fontFamily:FONT,fontSize:37,color:TXT,padding:[0,0,0,14]},
  data:names.map((n,k)=>({name:n,icon:'circle',itemStyle:{color:colors[k],opacity:1}}))}}

chart.setOption({
  animation:false,backgroundColor:'#ffffff',
  title:[
   {text:leftTitle,left:907,top:44,textAlign:'center',textStyle:{fontFamily:FONT,fontWeight:'normal',fontSize:45.2,color:TXT}},
   {text:rightTitle,left:2541,top:44,textAlign:'center',textStyle:{fontFamily:FONT,fontWeight:'normal',fontSize:45.2,color:TXT}}],
  grid:[
   {left:241,top:112,width:1345,height:1034,outerBoundsMode:'none',show:true,borderColor:'#000',borderWidth:3,backgroundColor:'#fff'},
   {left:1874,top:112,width:1347,height:1034,outerBoundsMode:'none',show:true,borderColor:'#000',borderWidth:3,backgroundColor:'#fff'}],
  xAxis:[axisX(9.99,1,leftXTicks,4,0),axisX(199.9,25,rightXTicks,5,1)],
  yAxis:[axisY(599,leftYTicks,'Memory Bandwidth (GiB/s)',0),axisY(699.9,rightYTicks,'Bandwidth (GiB/s)',1)],
  legend:[legend(260,leftNames,leftColors),legend(2855,rightNames,rightColors)],
  graphic:[{type:'rect',silent:true,shape:{x:0,y:0,width:22,height:1261},style:{fill:'#cbcbec'}}],
  series:[
   lines(leftLines,0,false),
   scat(leftNames[0],leftSerial,leftColors[0],0),scat(leftNames[1],left7,leftColors[1],0),scat(leftNames[2],left14,leftColors[2],0),scat(leftNames[3],left21,leftColors[3],0),scat(leftNames[4],left28,leftColors[4],0),
   labels(leftLineLabels,0),
   lines(rightLinesSolid,1,false),lines(rightLinesDashed,1,true),
   scat(rightNames[0],rightSerial,rightColors[0],1),scat(rightNames[1],right7,rightColors[1],1),scat(rightNames[2],right14,rightColors[2],1),scat(rightNames[3],right21,rightColors[3],1),scat(rightNames[4],right28,rightColors[4],1),
   labels(rightLineLabels,1)]
});
</script></body></html>
